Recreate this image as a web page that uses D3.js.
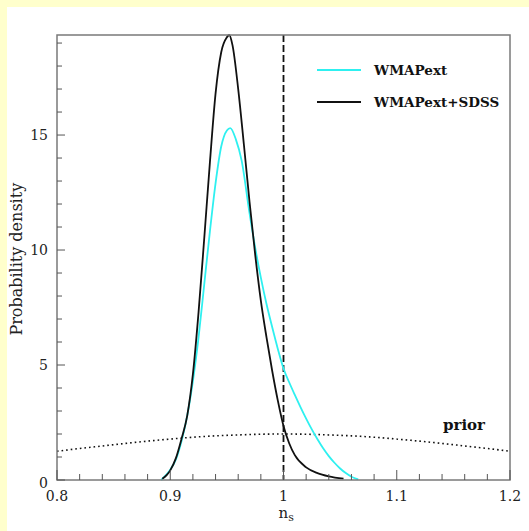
<!DOCTYPE html>
<html>
<head>
<meta charset="utf-8">
<script src="https://cdn.jsdelivr.net/npm/d3@7"></script>
<style>
  body { margin: 0; background: #ffffcc; }
  svg { display: block; }
  .tick-label { font-family: "DejaVu Serif", serif; font-size: 14px; fill: #222; }
  .legend-text { font-family: "DejaVu Serif", serif; font-weight: bold; font-size: 13.5px; fill: #111; }
</style>
</head>
<body>
<svg id="chart" width="529" height="531"></svg>
<script>
// ns values / probability density
const wmapNs = [0.892, 0.900, 0.905, 0.910, 0.915, 0.920, 0.925, 0.930, 0.935, 0.940, 0.945, 0.950, 0.953,
    0.958, 0.963, 0.970, 0.975, 0.980, 0.985, 0.990, 0.995, 1.000, 1.005, 1.010, 1.015, 1.020, 1.025,
    1.030, 1.035, 1.040, 1.045, 1.050, 1.055, 1.060, 1.066];
const wmapDensity = [0.0, 0.45, 0.9, 1.7, 2.8, 4.3, 6.2, 8.5, 10.8, 12.9, 14.5, 15.2, 15.3,
    14.8, 13.9, 11.6, 10.1, 8.8, 7.65, 6.65, 5.7, 4.85, 4.25, 3.7, 3.17, 2.67, 2.2,
    1.77, 1.38, 1.04, 0.75, 0.5, 0.3, 0.14, 0.03];

const sdssNs = [0.893, 0.897, 0.900, 0.905, 0.910, 0.915, 0.920, 0.925, 0.930, 0.935, 0.940, 0.945, 0.950, 0.952,
    0.955, 0.960, 0.965, 0.970, 0.975, 0.980, 0.985, 0.990, 0.995, 1.000, 1.005, 1.010, 1.020, 1.030, 1.040, 1.053];
const sdssDensity = [0.05, 0.22, 0.42, 0.95, 1.8, 2.8, 4.6, 7.3, 10.5, 13.8, 16.8, 18.6, 19.25, 19.35,
    18.9, 17.0, 14.6, 12.1, 9.8, 7.8, 6.2, 4.75, 3.45, 2.35, 1.6, 1.08, 0.55, 0.3, 0.16, 0.06];

const priorNs = [0.80, 0.82, 0.84, 0.86, 0.88, 0.90, 0.92, 0.94, 0.96, 0.98, 1.00,
    1.02, 1.04, 1.06, 1.08, 1.10, 1.12, 1.14, 1.16, 1.18, 1.20];
const priorDensity = [1.25, 1.37, 1.48, 1.59, 1.69, 1.78, 1.86, 1.92, 1.96, 1.99, 2.00,
    1.99, 1.96, 1.92, 1.86, 1.78, 1.69, 1.59, 1.48, 1.37, 1.25];

const xTickValues = [0.8, 0.9, 1, 1.1, 1.2];
const yTickValues = [0, 5, 10, 15];
const legendLabels = ["WMAPext", "WMAPext+SDSS"];
const seriesColors = ["#2ef0f0", "#111111"];

const margin = { top: 35, right: 19, bottom: 51, left: 57 };
const W = 529, H = 531;

const svg = d3.select("#chart");

// white panel, yellow shows on top and left
svg.append("rect")
    .attr("x", 7).attr("y", 7)
    .attr("width", W - 7).attr("height", H - 7)
    .attr("fill", "#ffffff");

const x = d3.scaleLinear()
    .domain([0.8, 1.2])
    .range([margin.left, W - margin.right]);

const y = d3.scaleLinear()
    .domain([0, 19.35])
    .range([H - margin.bottom, margin.top]);

function toPoints(xs, ys) {
    return xs.map((v, i) => [v, ys[i]]);
}

const line = d3.line()
    .x(d => x(d[0]))
    .y(d => y(d[1]))
    .curve(d3.curveMonotoneX);

const plot = svg.append("g");

// prior (dotted)
plot.append("path")
    .attr("d", line(toPoints(priorNs, priorDensity)))
    .attr("fill", "none")
    .attr("stroke", "#111")
    .attr("stroke-width", 1.6)
    .attr("stroke-dasharray", "1.6,3");

// n_s = 1 dashed line
plot.append("line")
    .attr("x1", x(1)).attr("x2", x(1))
    .attr("y1", y.range()[1]).attr("y2", y.range()[0])
    .attr("stroke", "#111")
    .attr("stroke-width", 1.8)
    .attr("stroke-dasharray", "7,3");

plot.append("path")
    .attr("d", line(toPoints(wmapNs, wmapDensity)))
    .attr("fill", "none")
    .attr("stroke", seriesColors[0])
    .attr("stroke-width", 1.8);

plot.append("path")
    .attr("d", line(toPoints(sdssNs, sdssDensity)))
    .attr("fill", "none")
    .attr("stroke", seriesColors[1])
    .attr("stroke-width", 1.8);

// frame
svg.append("rect")
    .attr("x", x.range()[0]).attr("y", y.range()[1])
    .attr("width", x.range()[1] - x.range()[0])
    .attr("height", y.range()[0] - y.range()[1])
    .attr("fill", "none")
    .attr("stroke", "#7a7a7a")
    .attr("stroke-width", 1.5);

// inward ticks, major + minor
const xMinor = d3.range(0.8, 1.2001, 0.02);
svg.append("g")
    .selectAll("line")
    .data(xMinor)
    .join("line")
    .attr("x1", d => x(d)).attr("x2", d => x(d))
    .attr("y1", y(0))
    .attr("y2", d => y(0) - (Math.abs(d * 10 - Math.round(d * 10)) < 1e-6 ? 10 : 6))
    .attr("stroke", "#555")
    .attr("stroke-width", 1);

const yMinor = d3.range(0, 20, 1);
svg.append("g")
    .selectAll("line")
    .data(yMinor)
    .join("line")
    .attr("x1", x(0.8))
    .attr("x2", d => x(0.8) + (d % 5 == 0 ? 8 : 5))
    .attr("y1", d => y(d)).attr("y2", d => y(d))
    .attr("stroke", "#555")
    .attr("stroke-width", 1);

// tick labels
svg.append("g")
    .selectAll("text")
    .data(xTickValues)
    .join("text")
    .attr("class", "tick-label")
    .attr("x", d => x(d))
    .attr("y", y(0) + 21)
    .attr("text-anchor", "middle")
    .text(d => d3.format("")(d));

svg.append("g")
    .selectAll("text")
    .data(yTickValues)
    .join("text")
    .attr("class", "tick-label")
    .attr("x", x(0.8) - 9)
    .attr("y", d => y(d) + (d == 0 ? 8 : 5))
    .attr("text-anchor", "end")
    .text(d => d);

// axis titles
const xt = svg.append("text")
    .attr("class", "tick-label")
    .attr("x", x(1) - 5)
    .attr("y", y(0) + 38)
    .style("font-size", "15px");
xt.append("tspan").text("n");
xt.append("tspan").attr("dy", 3).style("font-size", "11px").text("s");

svg.append("text")
    .attr("class", "tick-label")
    .attr("transform", "translate(22," + y(9.6) + ") rotate(-90)")
    .attr("text-anchor", "middle")
    .style("font-size", "16px")
    .text("Probability density");

// legend
const legend = svg.append("g");
legendLabels.forEach((label, i) => {
    const ly = 70 + i * 32;
    legend.append("line")
        .attr("x1", 317).attr("x2", 361)
        .attr("y1", ly).attr("y2", ly)
        .attr("stroke", seriesColors[i])
        .attr("stroke-width", 1.8);
    legend.append("text")
        .attr("class", "legend-text")
        .attr("x", 374)
        .attr("y", ly + 5)
        .text(label);
});

svg.append("text")
    .attr("class", "legend-text")
    .attr("x", 443)
    .attr("y", 430)
    .style("font-size", "15px")
    .text("prior");
</script>
</body>
</html>
